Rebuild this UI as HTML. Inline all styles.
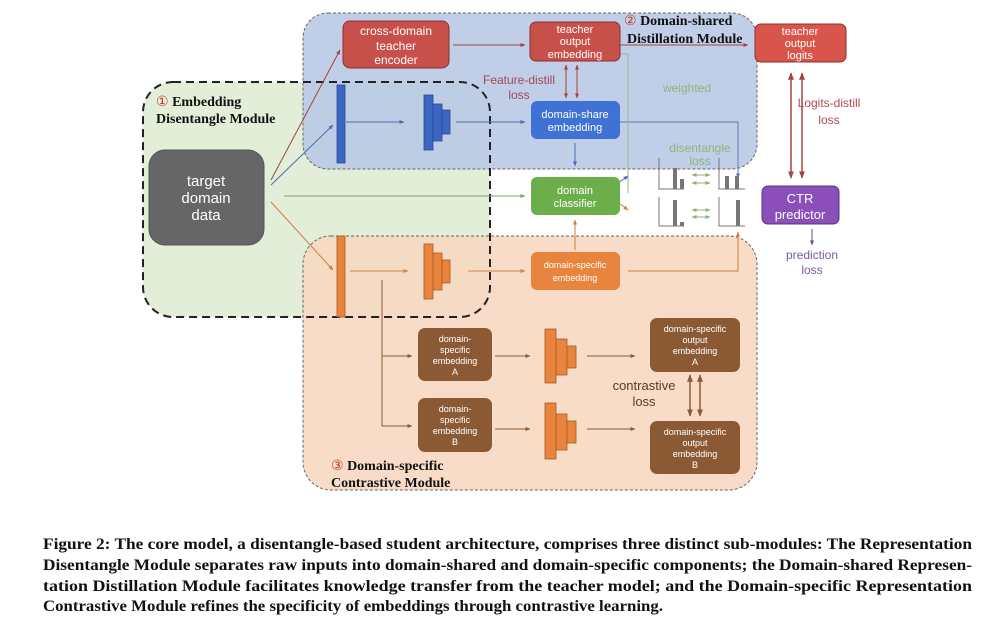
<!DOCTYPE html>
<html><head><meta charset="utf-8"><style>
html,body{margin:0;padding:0;background:#fff;}
svg{display:block;font-family:"Liberation Sans",sans-serif;}
</style></head><body>
<svg width="1000" height="623" viewBox="0 0 1000 623" xmlns="http://www.w3.org/2000/svg">
<defs>
<marker id="ar" viewBox="0 0 10 10" refX="9" refY="5" markerWidth="5" markerHeight="5" orient="auto-start-reverse"><path d="M0,1 L10,5 L0,9 z" fill="context-stroke"/></marker>
</defs>
<rect width="1000" height="623" fill="#fff"/>
<rect x="143" y="82" width="347" height="235" rx="30" fill="#e2eed8"/>
<rect x="303" y="13" width="454" height="156" rx="25" fill="#b9c9e5" fill-opacity="0.9" stroke="#666" stroke-dasharray="3,2"/>
<rect x="303" y="236" width="454" height="254" rx="28" fill="#f7d9c2" fill-opacity="0.92" stroke="#666" stroke-dasharray="3,2"/>
<rect x="143" y="82" width="347" height="235" rx="30" fill="none" stroke="#222" stroke-width="2" stroke-dasharray="8,5"/>

<g fill="none" stroke-width="1">
<line x1="271" y1="180" x2="340" y2="50" stroke="#a5443e" marker-end="url(#ar)"/>
<line x1="271" y1="185" x2="333" y2="125" stroke="#4a6fb0" marker-end="url(#ar)"/>
<line x1="284" y1="196" x2="525" y2="196" stroke="#7aa56a" marker-end="url(#ar)"/>
<line x1="271" y1="202" x2="333" y2="270" stroke="#d57b3a" marker-end="url(#ar)"/>
<line x1="453" y1="45" x2="525" y2="45" stroke="#a5443e" marker-end="url(#ar)"/>
<line x1="609" y1="45" x2="748" y2="45" stroke="#a5443e" marker-end="url(#ar)"/>
<line x1="346" y1="122" x2="404" y2="122" stroke="#4a6fb0" marker-end="url(#ar)"/>
<line x1="456" y1="122" x2="525" y2="122" stroke="#4a6fb0" marker-end="url(#ar)"/>
<polyline points="605,122 738,122 738,178" stroke="#5a7ab0" marker-end="url(#ar)"/>
<line x1="575" y1="143" x2="575" y2="166" stroke="#4a6fb0" marker-end="url(#ar)"/>
<polyline points="628,193 628,54 612,54" stroke="#9ab888" marker-end="url(#ar)"/>
<line x1="566" y1="65" x2="566" y2="98" stroke="#a5443e" marker-start="url(#ar)" marker-end="url(#ar)"/>
<line x1="577" y1="65" x2="577" y2="98" stroke="#a5443e" marker-start="url(#ar)" marker-end="url(#ar)"/>
<line x1="791" y1="73" x2="791" y2="178" stroke="#a5443e" stroke-width="1.5" marker-start="url(#ar)" marker-end="url(#ar)"/>
<line x1="802" y1="73" x2="802" y2="178" stroke="#a5443e" stroke-width="1.5" marker-start="url(#ar)" marker-end="url(#ar)"/>
<line x1="611" y1="188" x2="628" y2="176" stroke="#4a6fb0" marker-end="url(#ar)"/>
<line x1="611" y1="197" x2="628" y2="210" stroke="#d57b3a" marker-end="url(#ar)"/>
<line x1="575" y1="250" x2="575" y2="220" stroke="#d57b3a" marker-end="url(#ar)"/>
<polyline points="628,271 738,271 738,232" stroke="#d57b3a" marker-end="url(#ar)"/>
<line x1="812" y1="229" x2="812" y2="245" stroke="#6a5090" marker-end="url(#ar)"/>
<line x1="350" y1="271" x2="408" y2="271" stroke="#c8854f" marker-end="url(#ar)"/>
<line x1="468" y1="271" x2="525" y2="271" stroke="#c8854f" marker-end="url(#ar)"/>
<polyline points="382,280 382,426 412,426" stroke="#8b5a35" marker-end="url(#ar)"/>
<line x1="382" y1="356" x2="412" y2="356" stroke="#8b5a35" marker-end="url(#ar)"/>
<line x1="495" y1="356" x2="530" y2="356" stroke="#8b5a35" marker-end="url(#ar)"/>
<line x1="587" y1="356" x2="635" y2="356" stroke="#8b5a35" marker-end="url(#ar)"/>
<line x1="495" y1="429" x2="530" y2="429" stroke="#8b5a35" marker-end="url(#ar)"/>
<line x1="587" y1="429" x2="635" y2="429" stroke="#8b5a35" marker-end="url(#ar)"/>
<line x1="690" y1="375" x2="690" y2="416" stroke="#8b5a35" stroke-width="1.5" marker-start="url(#ar)" marker-end="url(#ar)"/>
<line x1="700" y1="375" x2="700" y2="416" stroke="#8b5a35" stroke-width="1.5" marker-start="url(#ar)" marker-end="url(#ar)"/>
<g stroke="#8fb36f">
<line x1="692" y1="175" x2="710" y2="175" marker-start="url(#ar)" marker-end="url(#ar)"/>
<line x1="692" y1="183" x2="710" y2="183" marker-start="url(#ar)" marker-end="url(#ar)"/>
<line x1="692" y1="210" x2="710" y2="210" marker-start="url(#ar)" marker-end="url(#ar)"/>
<line x1="692" y1="217" x2="710" y2="217" marker-start="url(#ar)" marker-end="url(#ar)"/>
</g>
</g>

<g fill="none" stroke="#777" stroke-width="1">
<polyline points="659,158 659,189 684,189"/>
<polyline points="719,158 719,189 745,189"/>
<polyline points="659,197 659,226 684,226"/>
<polyline points="719,197 719,226 745,226"/>
</g>
<g fill="#777">
<rect x="673" y="168" width="4" height="21"/><rect x="680" y="179" width="4" height="10"/>
<rect x="725" y="176" width="4" height="13"/><rect x="735" y="176" width="4" height="13"/>
<rect x="673" y="200" width="4" height="26"/><rect x="680" y="222" width="4" height="4"/>
<rect x="736" y="200" width="4" height="26"/>
</g>

<g fill="#3d66c4" stroke="#2a4a90" stroke-width="0.8">
<rect x="337" y="85" width="8" height="78"/>
<rect x="424" y="95" width="9" height="55"/><rect x="433" y="104" width="9" height="37"/><rect x="442" y="110" width="8" height="24"/>
</g>
<g fill="#e8843e" stroke="#a85a20" stroke-width="0.8">
<rect x="337" y="236" width="8" height="81"/>
<rect x="424" y="244" width="9" height="55"/><rect x="433" y="253" width="9" height="37"/><rect x="442" y="260" width="8" height="23"/>
<rect x="545" y="329" width="11" height="54"/><rect x="556" y="339" width="11" height="36"/><rect x="567" y="346" width="9" height="22"/>
<rect x="545" y="403" width="11" height="56"/><rect x="556" y="414" width="11" height="36"/><rect x="567" y="421" width="9" height="22"/>
</g>

<g font-size="12" text-anchor="middle" fill="#fff">
<rect x="149" y="150" width="115" height="95" rx="16" fill="#666" stroke="#555"/>
<text x="206" y="186" font-size="15">target</text><text x="206" y="203" font-size="15">domain</text><text x="206" y="220" font-size="15">data</text>
<rect x="343" y="21" width="106" height="47" rx="7" fill="#c8504a" stroke="#8a3030"/>
<text x="396" y="35">cross-domain</text><text x="396" y="50">teacher</text><text x="396" y="64">encoder</text>
<rect x="530" y="22" width="90" height="39" rx="6" fill="#c8504a" stroke="#8a3030"/>
<text x="575" y="33" font-size="11">teacher</text><text x="575" y="45" font-size="11">output</text><text x="575" y="58" font-size="11">embedding</text>
<rect x="755" y="24" width="91" height="38" rx="6" fill="#d9554b" stroke="#8a3030"/>
<text x="800" y="35" font-size="11">teacher</text><text x="800" y="47" font-size="11">output</text><text x="800" y="59" font-size="11">logits</text>
<rect x="531" y="101" width="89" height="38" rx="6" fill="#3f72d4"/>
<text x="575" y="118" font-size="11">domain-share</text><text x="575" y="131" font-size="11">embedding</text>
<rect x="531" y="177" width="89" height="38" rx="6" fill="#6cae4a"/>
<text x="575" y="194" font-size="11">domain</text><text x="575" y="207" font-size="11">classifier</text>
<rect x="762" y="186" width="77" height="38" rx="6" fill="#8a4fb8" stroke="#5a3080"/>
<text x="800" y="203" font-size="13">CTR</text><text x="800" y="219" font-size="13">predictor</text>
<rect x="531" y="252" width="89" height="38" rx="6" fill="#e8843e"/>
<text x="575" y="268" font-size="9">domain-specific</text><text x="575" y="281" font-size="9">embedding</text>
<rect x="418" y="328" width="74" height="53" rx="7" fill="#8b5a35"/>
<text x="455" y="342" font-size="9">domain-</text><text x="455" y="353" font-size="9">specific</text><text x="455" y="364" font-size="9">embedding</text><text x="455" y="375" font-size="9">A</text>
<rect x="418" y="398" width="74" height="54" rx="7" fill="#8b5a35"/>
<text x="455" y="412" font-size="9">domain-</text><text x="455" y="423" font-size="9">specific</text><text x="455" y="434" font-size="9">embedding</text><text x="455" y="445" font-size="9">B</text>
<rect x="650" y="318" width="90" height="54" rx="7" fill="#8b5a35"/>
<text x="695" y="332" font-size="9">domain-specific</text><text x="695" y="343" font-size="9">output</text><text x="695" y="354" font-size="9">embedding</text><text x="695" y="365" font-size="9">A</text>
<rect x="650" y="421" width="90" height="53" rx="7" fill="#8b5a35"/>
<text x="695" y="435" font-size="9">domain-specific</text><text x="695" y="446" font-size="9">output</text><text x="695" y="457" font-size="9">embedding</text><text x="695" y="468" font-size="9">B</text>
</g>

<g font-size="12" text-anchor="middle">
<text x="519" y="84" fill="#a04a55">Feature-distill</text><text x="519" y="99" fill="#a04a55">loss</text>
<text x="687" y="92" fill="#8fb57c">weighted</text>
<text x="700" y="152" fill="#8fb57c">disentangle</text><text x="700" y="165" fill="#8fb57c">loss</text>
<text x="829" y="107" fill="#b04a50">Logits-distill</text><text x="829" y="124" fill="#b04a50">loss</text>
<text x="812" y="259" fill="#7a5aa0">prediction</text><text x="812" y="274" fill="#7a5aa0">loss</text>
<text x="644" y="390" font-size="13" fill="#5a3a22">contrastive</text><text x="644" y="406" font-size="13" fill="#5a3a22">loss</text>
</g>
<g font-family="Liberation Serif,serif" font-weight="bold" font-size="14" fill="#111">
<text x="624" y="25"><tspan fill="#c0392b" font-weight="normal">②</tspan> Domain-shared</text>
<text x="627" y="43">Distillation Module</text>
<text x="156" y="106"><tspan fill="#c0392b" font-weight="normal">①</tspan> Embedding</text>
<text x="156" y="123">Disentangle Module</text>
<text x="331" y="470"><tspan fill="#c0392b" font-weight="normal">③</tspan> Domain-specific</text>
<text x="331" y="487">Contrastive Module</text>
</g>

<g font-family="Liberation Serif,serif" font-weight="bold" font-size="16" fill="#111">
<text x="43" y="549" textLength="929" lengthAdjust="spacingAndGlyphs">Figure 2: The core model, a disentangle-based student architecture, comprises three distinct sub-modules: The Representation</text>
<text x="43" y="570" textLength="929" lengthAdjust="spacingAndGlyphs">Disentangle Module separates raw inputs into domain-shared and domain-specific components; the Domain-shared Represen-</text>
<text x="43" y="591" textLength="929" lengthAdjust="spacingAndGlyphs">tation Distillation Module facilitates knowledge transfer from the teacher model; and the Domain-specific Representation</text>
<text x="43" y="611" textLength="620" lengthAdjust="spacingAndGlyphs">Contrastive Module refines the specificity of embeddings through contrastive learning.</text>
</g>
</svg>
</body></html>
